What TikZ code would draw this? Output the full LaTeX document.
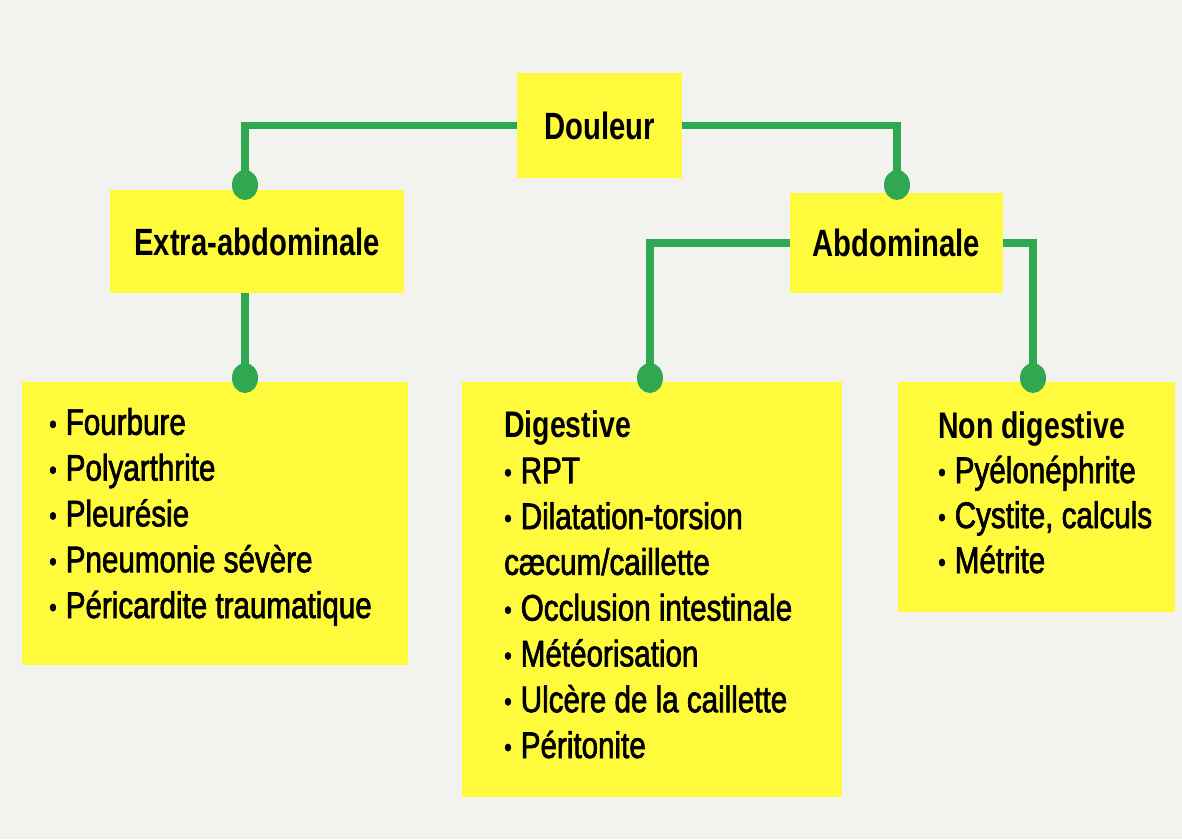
\documentclass[tikz,border=0pt]{standalone}
\usepackage{fontspec}
\newfontfamily\headfont{Liberation Sans}[FakeStretch=0.77]
\newfontfamily\itemfont{Liberation Sans}[FakeStretch=0.8,FakeBold=1.8]
\newcommand\puce{{\fontsize{27}{0}\selectfont\raisebox{1.5pt}{•}}\hspace{9pt}}
\definecolor{fond}{RGB}{242,242,238}
\definecolor{jaune}{RGB}{255,250,60}
\definecolor{vert}{RGB}{48,168,82}
\usetikzlibrary{positioning}

\begin{document}
\begin{tikzpicture}[x=1pt,y=-1pt,
    box/.style={fill=jaune, inner sep=0pt, font=\headfont\bfseries\fontsize{38}{46}\selectfont},
    liste/.style={anchor=base west, align=left, inner sep=0pt, font=\itemfont\fontsize{37}{45.8}\selectfont},
    link/.style={draw=vert, line width=7.5pt},
    dot/.style={fill=vert}]
  \fill[fond] (0,0) rectangle (1182,839);
  \useasboundingbox (0,0) rectangle (1182,839);

  % boites
  \node[box, minimum width=165pt, minimum height=105pt] (douleur) at (599.5,125.5) {Douleur};
  \node[box, minimum width=294pt, minimum height=103pt] (extra) at (257,241.5) {Extra-abdominale};
  \node[box, minimum width=213pt, minimum height=100pt] (abdo) at (896.5,243) {Abdominale};
  \node[box, minimum width=386pt, minimum height=283pt, anchor=north west] (bextra) at (22,382) {};
  \node[box, minimum width=380pt, minimum height=415pt, anchor=north west] (bdig) at (462,382) {};
  \node[box, minimum width=277pt, minimum height=230pt, anchor=north west] (bnondig) at (898,382) {};

  % textes (ancre sur la derniere ligne)
  \node[liste] (lextra) at (49,618)
    {\puce Fourbure\\\puce Polyarthrite\\\puce Pleurésie\\\puce Pneumonie sévère\\\puce Péricardite traumatique};
  \node[liste] (ldig) at (504,758)
    {{\headfont\bfseries Digestive}\\\puce RPT\\\puce Dilatation-torsion\\cæcum/caillette\\\puce Occlusion intestinale\\\puce Météorisation\\\puce Ulcère de la caillette\\\puce Péritonite};
  \node[liste, font=\itemfont\fontsize{37}{45}\selectfont] (lnondig) at (938,573)
    {{\headfont\bfseries Non digestive}\\\puce Pyélonéphrite\\\puce Cystite, calculs\\\puce Métrite};

  % liaisons
  \coordinate (p1) at (245,185);
  \coordinate (p2) at (897,185);
  \coordinate (p3) at (245,378);
  \coordinate (p4) at (650,378);
  \coordinate (p5) at (1033,378);
  \path[link]
    (douleur.west) -| (p1)
    (douleur.east) -| (p2)
    (extra.south -| p3) -- (p3)
    (abdo.west) -| (p4)
    (abdo.east) -| (p5);
  \foreach \p in {p1,p2,p3,p4,p5}
    \fill[dot] (\p) ellipse (13pt and 15pt);
\end{tikzpicture}
\end{document}
